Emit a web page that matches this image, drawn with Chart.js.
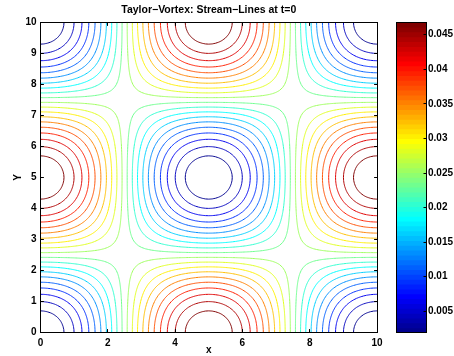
<!DOCTYPE html>
<html>
<head>
<meta charset="utf-8">
<script src="https://cdn.jsdelivr.net/npm/chart.js@4.4.1/dist/chart.umd.min.js"></script>
<style>
  html, body { margin: 0; padding: 0; background: #fff; }
  #wrap { position: relative; width: 454px; height: 356px; }
  #wrap canvas { position: absolute; left: 0; top: 0; }
</style>
</head>
<body>
<div id="wrap">
  <canvas id="streamChart" width="454" height="356"></canvas>
  <canvas id="colorBar" width="454" height="356"></canvas>
</div>
<script>
// Taylor vortex at t=0: psi(x,y) = PSI_MEAN - PSI_AMP * cos(pi x / CELL) * cos(pi y / CELL)
const PSI_MEAN = 0.02435;
const PSI_AMP = 0.0248;
const CELL = 5;
const DOMAIN = [0, 10];
const GRID_STEP = 0.1;

// contour levels, the colour bar runs from the first to the last one
const LEVELS = [0.0019, 0.00426, 0.00663, 0.00899, 0.01135, 0.01372, 0.01608, 0.01844, 0.02081, 0.02317,
                0.02553, 0.0279, 0.03026, 0.03262, 0.03499, 0.03735, 0.03971, 0.04208, 0.04444, 0.0468];
const X_TICKS = [0, 2, 4, 6, 8, 10];
const Y_TICKS = [0, 1, 2, 3, 4, 5, 6, 7, 8, 9, 10];
const BAR_TICKS = [0.005, 0.01, 0.015, 0.02, 0.025, 0.03, 0.035, 0.04, 0.045];

const TITLE = 'Taylor\u2212Vortex: Stream\u2212Lines at t=0';
const FONT = { family: "'Liberation Sans', Arial, Helvetica, sans-serif", size: 10, weight: 'bold' };

Chart.defaults.color = '#000';
Chart.defaults.animation = false;

// matlab style jet colormap
function jetMap(m) {
  const n = Math.ceil(m / 4);
  const u = [];
  for (let i = 1; i <= n; i++) u.push(i / n);
  for (let i = 0; i < n - 1; i++) u.push(1);
  for (let i = n; i >= 1; i--) u.push(i / n);
  const g0 = Math.ceil(n / 2) - (m % 4 === 1 ? 1 : 0);
  const map = [];
  for (let i = 0; i < m; i++) map.push([0, 0, 0]);
  u.forEach((val, k) => {
    const g = g0 + k + 1, r = g + n, b = g - n;
    if (r >= 1 && r <= m) map[r - 1][0] = val;
    if (g >= 1 && g <= m) map[g - 1][1] = val;
    if (b >= 1 && b <= m) map[b - 1][2] = val;
  });
  return map.map(c => `rgb(${Math.round(c[0] * 255)},${Math.round(c[1] * 255)},${Math.round(c[2] * 255)})`);
}
const JET = jetMap(64);
const cmin = LEVELS[0], cmax = LEVELS[LEVELS.length - 1];

function levelColor(v) {
  const idx = Math.min(JET.length - 1, Math.floor((v - cmin) / (cmax - cmin) * JET.length));
  return JET[idx];
}

function psi(x, y) {
  return PSI_MEAN - PSI_AMP * Math.cos(Math.PI * x / CELL) * Math.cos(Math.PI * y / CELL);
}

function sampleField() {
  const n = Math.round((DOMAIN[1] - DOMAIN[0]) / GRID_STEP) + 1;
  const xs = [];
  for (let i = 0; i < n; i++) xs.push(DOMAIN[0] + i * GRID_STEP);
  const z = xs.map(y => xs.map(x => psi(x, y)));
  return { xs, z, n };
}

// marching squares, segments chained into polylines
function contourLines(field, level) {
  const { xs, z, n } = field;
  const pts = {}, links = {};
  const above = v => v > level;

  function edge(key, x0, y0, v0, x1, y1, v1) {
    if (!pts[key]) {
      const t = (level - v0) / (v1 - v0);
      pts[key] = { x: x0 + t * (x1 - x0), y: y0 + t * (y1 - y0) };
      links[key] = [];
    }
    return key;
  }
  function link(a, b) { links[a].push(b); links[b].push(a); }

  for (let j = 0; j < n - 1; j++) {
    for (let i = 0; i < n - 1; i++) {
      const x0 = xs[i], x1 = xs[i + 1], y0 = xs[j], y1 = xs[j + 1];
      const v00 = z[j][i], v10 = z[j][i + 1], v11 = z[j + 1][i + 1], v01 = z[j + 1][i];
      const hit = {};
      if (above(v00) !== above(v10)) hit.b = edge(`h${i},${j}`, x0, y0, v00, x1, y0, v10);
      if (above(v10) !== above(v11)) hit.r = edge(`v${i + 1},${j}`, x1, y0, v10, x1, y1, v11);
      if (above(v01) !== above(v11)) hit.t = edge(`h${i},${j + 1}`, x0, y1, v01, x1, y1, v11);
      if (above(v00) !== above(v01)) hit.l = edge(`v${i},${j}`, x0, y0, v00, x0, y1, v01);
      const keys = ['b', 'r', 't', 'l'].filter(k => hit[k]);
      if (keys.length === 2) {
        link(hit[keys[0]], hit[keys[1]]);
      } else if (keys.length === 4) {
        const centre = (v00 + v10 + v11 + v01) / 4;
        if (above(centre) === above(v00)) { link(hit.b, hit.r); link(hit.t, hit.l); }
        else { link(hit.b, hit.l); link(hit.t, hit.r); }
      }
    }
  }

  const used = new Set();
  const lines = [];
  function walk(start) {
    const line = [pts[start]];
    used.add(start);
    let prev = null, cur = start;
    for (;;) {
      const next = links[cur].find(k => k !== prev && !used.has(k));
      if (next === undefined) {
        if (line.length > 2 && links[cur].includes(start)) line.push(pts[start]);
        break;
      }
      line.push(pts[next]);
      used.add(next);
      prev = cur;
      cur = next;
    }
    return line;
  }
  const keys = Object.keys(links);
  keys.filter(k => links[k].length === 1).forEach(k => { if (!used.has(k)) lines.push(walk(k)); });
  keys.forEach(k => { if (!used.has(k)) lines.push(walk(k)); });
  return lines;
}

const field = sampleField();
const contourSets = LEVELS.map(level => {
  const data = [];
  contourLines(field, level).forEach(line => {
    data.push(...line, { x: NaN, y: NaN });
  });
  return {
    label: String(level),
    data: data,
    showLine: true,
    borderColor: levelColor(level),
    borderWidth: 1,
    pointRadius: 0,
    // a tiny tension keeps chart.js off its x-sorted fast path, these curves double back
    tension: 0.001,
    spanGaps: false
  };
});

// box round the plot area and ticks pointing inwards
const axesBox = {
  id: 'axesBox',
  afterDraw(chart) {
    const { ctx, chartArea: a, scales } = chart;
    const L = Math.floor(a.left) + 0.5, R = Math.floor(a.right) + 0.5;
    const T = Math.floor(a.top) + 0.5, B = Math.floor(a.bottom) + 0.5;
    const len = 3.4;
    ctx.save();
    ctx.strokeStyle = '#000';
    ctx.lineWidth = 1;
    ctx.strokeRect(L, T, R - L, B - T);
    ctx.beginPath();
    scales.x.ticks.forEach(t => {
      const px = Math.floor(scales.x.getPixelForValue(t.value)) + 0.5;
      ctx.moveTo(px, B); ctx.lineTo(px, B - len);
      ctx.moveTo(px, T); ctx.lineTo(px, T + len);
    });
    scales.y.ticks.forEach(t => {
      const py = Math.floor(scales.y.getPixelForValue(t.value)) + 0.5;
      ctx.moveTo(L, py); ctx.lineTo(L + len, py);
      ctx.moveTo(R, py); ctx.lineTo(R - len, py);
    });
    ctx.stroke();
    ctx.restore();
  }
};

new Chart(document.getElementById('streamChart'), {
  type: 'scatter',
  data: { datasets: contourSets },
  options: {
    responsive: false,
    events: [],
    layout: { padding: { left: 0, right: 77, top: 0, bottom: 0 } },
    plugins: {
      legend: { display: false },
      tooltip: { enabled: false },
      title: {
        display: true,
        text: TITLE,
        fullSize: false,
        font: { ...FONT, size: 10.5 },
        color: '#000',
        padding: { top: 4, bottom: 5.9 }
      }
    },
    scales: {
      x: {
        type: 'linear',
        min: DOMAIN[0],
        max: DOMAIN[1],
        afterBuildTicks: s => { s.ticks = X_TICKS.map(v => ({ value: v })); },
        afterFit: s => { s.height = 23.5; s.paddingLeft = 0; s.paddingRight = 0; },
        grid: { display: false, drawTicks: false },
        border: { display: false },
        ticks: { font: FONT, color: '#000', padding: 5, maxRotation: 0, autoSkip: false },
        title: { display: true, text: 'x', font: FONT, color: '#000', padding: { top: 0, bottom: 0 } }
      },
      y: {
        type: 'linear',
        min: DOMAIN[0],
        max: DOMAIN[1],
        afterBuildTicks: s => { s.ticks = Y_TICKS.map(v => ({ value: v })); },
        afterFit: s => { s.width = 40.5; s.paddingTop = 0; s.paddingBottom = 0; },
        grid: { display: false, drawTicks: false },
        border: { display: false },
        ticks: { font: FONT, color: '#000', padding: 4, autoSkip: false },
        title: { display: true, text: 'Y', font: FONT, color: '#000', padding: { top: 12, bottom: 0 } }
      }
    }
  },
  plugins: [axesBox]
});

// colour bar: 64 bands of the colormap between the lowest and highest level
const bandSize = (cmax - cmin) / JET.length;
const bandSets = JET.map((col, i) => ({
  data: [[cmin + i * bandSize, cmax]],
  backgroundColor: col,
  borderWidth: 0,
  grouped: false,
  barPercentage: 1,
  categoryPercentage: 1,
  order: -i
}));

const barFrame = {
  id: 'barFrame',
  afterDraw(chart) {
    const { ctx, chartArea: a, scales } = chart;
    const L = Math.floor(a.left) + 0.5, R = Math.floor(a.right) + 0.5;
    const T = Math.floor(a.top) + 0.5, B = Math.floor(a.bottom) + 0.5;
    ctx.save();
    ctx.strokeStyle = '#000';
    ctx.lineWidth = 1;
    ctx.strokeRect(L, T, R - L, B - T);
    ctx.beginPath();
    scales.y.ticks.forEach(t => {
      const py = Math.floor(scales.y.getPixelForValue(t.value)) + 0.5;
      ctx.moveTo(R, py); ctx.lineTo(R - 3, py);
    });
    ctx.stroke();
    ctx.restore();
  }
};

new Chart(document.getElementById('colorBar'), {
  type: 'bar',
  data: { labels: [''], datasets: bandSets },
  options: {
    responsive: false,
    events: [],
    layout: { padding: { left: 396.7, right: 0, top: 22.3, bottom: 23.3 } },
    plugins: { legend: { display: false }, tooltip: { enabled: false } },
    scales: {
      x: { display: false },
      y: {
        type: 'linear',
        position: 'right',
        min: cmin,
        max: cmax,
        afterBuildTicks: s => { s.ticks = BAR_TICKS.map(v => ({ value: v })); },
        afterFit: s => { s.width = 28; s.paddingTop = 0; s.paddingBottom = 0; },
        grid: { display: false, drawTicks: false },
        border: { display: false },
        ticks: { font: FONT, color: '#000', padding: 2, callback: v => String(v) }
      }
    }
  },
  plugins: [barFrame]
});
</script>
</body>
</html>
